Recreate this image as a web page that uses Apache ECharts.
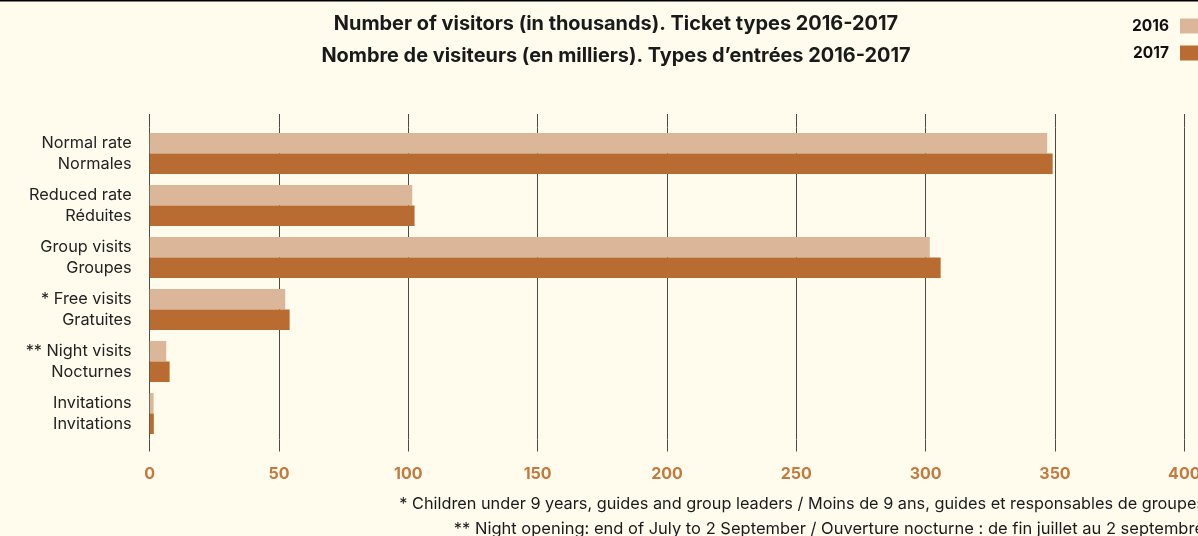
<!DOCTYPE html>
<html>
<head>
<meta charset="utf-8">
<script src="https://cdn.jsdelivr.net/npm/echarts@6/dist/echarts.min.js"></script>
<style>
html,body{margin:0;padding:0;background:#fffcee;}
#chart{width:1198px;height:536px;}
</style>
</head>
<body>
<div id="chart"></div>
<script>
const categories = [
  'Normal rate\nNormales',
  'Reduced rate\nRéduites',
  'Group visits\nGroupes',
  '* Free visits\nGratuites',
  '** Night visits\nNocturnes',
  'Invitations\nInvitations'
];
const values2016 = [347, 101.5, 301.6, 52.4, 6.4, 1.5];
const values2017 = [349.1, 102.4, 305.8, 54.1, 7.7, 1.6];
const seriesNames = ['2016', '2017'];
const titleLines = [
  'Number of visitors (in thousands). Ticket types 2016-2017',
  'Nombre de visiteurs (en milliers). Types d’entrées 2016-2017'
];
const footnotes = [
  '* Children under 9 years, guides and group leaders / Moins de 9 ans, guides et responsables de groupes',
  '** Night opening: end of July to 2 September / Ouverture nocturne : de fin juillet au 2 septembre'
];

const FONT = 'Inter, "Noto Sans", sans-serif';
const chart = echarts.init(document.getElementById('chart'), null, {renderer: 'canvas'});
const gridColor = '#4a4a46';

chart.setOption({
  backgroundColor: '#fffcee',
  animation: false,
  textStyle: {fontFamily: FONT},
  title: {
    text: titleLines.join('\n'),
    left: 611,
    textAlign: 'center',
    top: 3,
    textStyle: {fontFamily: FONT, fontSize: 19.9, fontWeight: 'bold', color: '#1a1a1a', lineHeight: 32}
  },
  legend: {
    data: seriesNames,
    orient: 'vertical',
    right: -7,
    top: 13,
    align: 'right',
    itemWidth: 20,
    itemHeight: 15,
    itemGap: 11,
    icon: 'rect',
    textStyle: {fontFamily: FONT, fontSize: 15.5, fontWeight: 'bold', color: '#111', padding: [0, 6, 0, 0]}
  },
  grid: {left: 149.7, right: 1198 - 1184.3, top: 127.5, bottom: 536 - 439.5, containLabel: false, outerBoundsMode: 'none'},
  xAxis: [{
    type: 'value',
    min: 0, max: 400, interval: 50,
    position: 'bottom',
    axisLine: {show: false},
    axisTick: {show: true, length: 12, lineStyle: {color: gridColor, width: 1}},
    splitLine: {show: true, lineStyle: {color: gridColor, width: 1}},
    axisLabel: {color: '#c27a3f', fontFamily: FONT, fontSize: 16, fontWeight: 'bold', margin: 27}
  }, {
    type: 'value',
    min: 0, max: 400, interval: 50,
    position: 'top',
    axisLine: {show: false},
    axisTick: {show: true, length: 13.5, lineStyle: {color: gridColor, width: 1}},
    splitLine: {show: false},
    axisLabel: {show: false}
  }],
  yAxis: {
    type: 'category',
    data: categories,
    inverse: true,
    axisLine: {show: false},
    axisTick: {show: false},
    axisLabel: {color: '#222', fontFamily: FONT, fontSize: 16.3, lineHeight: 21, margin: 18, align: 'right'}
  },
  series: [{
    name: seriesNames[0],
    type: 'bar',
    data: values2016,
    itemStyle: {color: '#dcb698'},
    barGap: '0%',
    barCategoryGap: '21%'
  }, {
    name: seriesNames[1],
    type: 'bar',
    data: values2017,
    itemStyle: {color: '#b86c32'},
    barGap: '0%',
    barCategoryGap: '21%'
  }],
  graphic: [{
    type: 'rect',
    shape: {x: 0, y: 0, width: 1198, height: 1.5},
    style: {fill: '#000'}
  }, {
    type: 'text',
    x: 1205, y: 504,
    style: {text: footnotes[0], textAlign: 'right', textVerticalAlign: 'middle', font: '16.3px ' + FONT, fill: '#1a1a1a'}
  }, {
    type: 'text',
    x: 1204, y: 529,
    style: {text: footnotes[1], textAlign: 'right', textVerticalAlign: 'middle', font: '16.5px ' + FONT, fill: '#1a1a1a'}
  }]
});
</script>
</body>
</html>
